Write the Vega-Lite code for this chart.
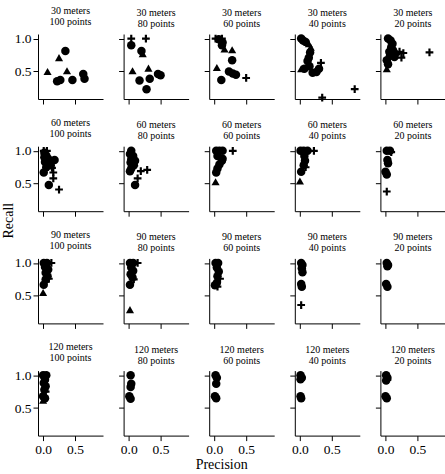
{
  "$schema": "https://vega.github.io/schema/vega-lite/v6.json",
  "padding": {"left": 1, "top": 5, "right": 0, "bottom": 0},
  "background": "white",
  "config": {
    "font": "Liberation Serif",
    "view": {"stroke": null},
    "axis": {"grid": false, "domainColor": "black", "tickColor": "black", "labelColor": "black", "labelFont": "Liberation Serif", "labelFontSize": 13.5, "tickSize": 5, "labelPadding": 2, "titleFont": "Liberation Serif", "titleFontSize": 14, "titleFontWeight": "normal", "titleColor": "black"},
    "title": {"font": "Liberation Serif", "fontSize": 10, "fontWeight": "normal", "color": "black", "offset": 5, "lineHeight": 11, "anchor": "middle"}
  },
  "data": {"values": [
    {"m":30,"p":100,"s":"circle","x":0.35,"y":0.81},
    {"m":30,"p":100,"s":"triangle","x":0.25,"y":0.71},
    {"m":30,"p":100,"s":"triangle","x":0.07,"y":0.50},
    {"m":30,"p":100,"s":"triangle","x":0.375,"y":0.51},
    {"m":30,"p":100,"s":"circle","x":0.22,"y":0.35},
    {"m":30,"p":100,"s":"circle","x":0.27,"y":0.37},
    {"m":30,"p":100,"s":"circle","x":0.46,"y":0.37},
    {"m":30,"p":100,"s":"circle","x":0.63,"y":0.46},
    {"m":30,"p":100,"s":"circle","x":0.65,"y":0.39},

    {"m":30,"p":80,"s":"plus","x":0.04,"y":1.0},
    {"m":30,"p":80,"s":"plus","x":0.27,"y":1.0},
    {"m":30,"p":80,"s":"circle","x":0.04,"y":0.90},
    {"m":30,"p":80,"s":"circle","x":0.2,"y":0.81},
    {"m":30,"p":80,"s":"triangle","x":0.22,"y":0.77},
    {"m":30,"p":80,"s":"triangle","x":0.06,"y":0.51},
    {"m":30,"p":80,"s":"triangle","x":0.31,"y":0.55},
    {"m":30,"p":80,"s":"circle","x":0.17,"y":0.36},
    {"m":30,"p":80,"s":"circle","x":0.33,"y":0.39},
    {"m":30,"p":80,"s":"circle","x":0.46,"y":0.46},
    {"m":30,"p":80,"s":"circle","x":0.5,"y":0.44},
    {"m":30,"p":80,"s":"circle","x":0.28,"y":0.23},

    {"m":30,"p":60,"s":"plus","x":0.02,"y":1.0},
    {"m":30,"p":60,"s":"circle","x":0.07,"y":0.99},
    {"m":30,"p":60,"s":"plus","x":0.12,"y":1.0},
    {"m":30,"p":60,"s":"circle","x":0.13,"y":0.94},
    {"m":30,"p":60,"s":"circle","x":0.12,"y":0.90},
    {"m":30,"p":60,"s":"triangle","x":0.16,"y":0.84},
    {"m":30,"p":60,"s":"triangle","x":0.28,"y":0.83},
    {"m":30,"p":60,"s":"circle","x":0.28,"y":0.67},
    {"m":30,"p":60,"s":"triangle","x":0.04,"y":0.56},
    {"m":30,"p":60,"s":"circle","x":0.23,"y":0.50},
    {"m":30,"p":60,"s":"circle","x":0.29,"y":0.47},
    {"m":30,"p":60,"s":"circle","x":0.34,"y":0.45},
    {"m":30,"p":60,"s":"circle","x":0.11,"y":0.37},
    {"m":30,"p":60,"s":"plus","x":0.5,"y":0.40},

    {"m":30,"p":40,"s":"circle","x":0.02,"y":1.0},
    {"m":30,"p":40,"s":"circle","x":0.05,"y":0.97},
    {"m":30,"p":40,"s":"circle","x":0.09,"y":0.95},
    {"m":30,"p":40,"s":"triangle","x":0.14,"y":0.92},
    {"m":30,"p":40,"s":"triangle","x":0.17,"y":0.87},
    {"m":30,"p":40,"s":"circle","x":0.16,"y":0.79},
    {"m":30,"p":40,"s":"circle","x":0.14,"y":0.71},
    {"m":30,"p":40,"s":"circle","x":0.12,"y":0.66},
    {"m":30,"p":40,"s":"triangle","x":0.02,"y":0.54},
    {"m":30,"p":40,"s":"circle","x":0.07,"y":0.54},
    {"m":30,"p":40,"s":"circle","x":0.15,"y":0.58},
    {"m":30,"p":40,"s":"circle","x":0.2,"y":0.48},
    {"m":30,"p":40,"s":"circle","x":0.26,"y":0.49},
    {"m":30,"p":40,"s":"circle","x":0.3,"y":0.54},
    {"m":30,"p":40,"s":"plus","x":0.33,"y":0.63},
    {"m":30,"p":40,"s":"plus","x":0.35,"y":0.10},
    {"m":30,"p":40,"s":"plus","x":0.86,"y":0.23},

    {"m":30,"p":20,"s":"circle","x":0.04,"y":1.0},
    {"m":30,"p":20,"s":"circle","x":0.08,"y":0.97},
    {"m":30,"p":20,"s":"circle","x":0.11,"y":0.92},
    {"m":30,"p":20,"s":"circle","x":0.09,"y":0.87},
    {"m":30,"p":20,"s":"circle","x":0.12,"y":0.82},
    {"m":30,"p":20,"s":"circle","x":0.06,"y":0.80},
    {"m":30,"p":20,"s":"circle","x":0.15,"y":0.77},
    {"m":30,"p":20,"s":"circle","x":0.07,"y":0.74},
    {"m":30,"p":20,"s":"circle","x":0.14,"y":0.72},
    {"m":30,"p":20,"s":"circle","x":0.02,"y":0.67},
    {"m":30,"p":20,"s":"circle","x":0.04,"y":0.61},
    {"m":30,"p":20,"s":"triangle","x":0.02,"y":0.54},
    {"m":30,"p":20,"s":"plus","x":0.22,"y":0.80},
    {"m":30,"p":20,"s":"plus","x":0.28,"y":0.78},
    {"m":30,"p":20,"s":"plus","x":0.25,"y":0.71},
    {"m":30,"p":20,"s":"plus","x":0.69,"y":0.79},

    {"m":60,"p":100,"s":"plus","x":0.01,"y":1.0},
    {"m":60,"p":100,"s":"plus","x":0.06,"y":1.0},
    {"m":60,"p":100,"s":"circle","x":0.02,"y":0.97},
    {"m":60,"p":100,"s":"triangle","x":0.04,"y":0.95},
    {"m":60,"p":100,"s":"circle","x":0.05,"y":0.93},
    {"m":60,"p":100,"s":"circle","x":0.02,"y":0.90},
    {"m":60,"p":100,"s":"circle","x":0.08,"y":0.88},
    {"m":60,"p":100,"s":"circle","x":0.18,"y":0.86},
    {"m":60,"p":100,"s":"triangle","x":0.06,"y":0.85},
    {"m":60,"p":100,"s":"circle","x":0.03,"y":0.83},
    {"m":60,"p":100,"s":"circle","x":0.07,"y":0.80},
    {"m":60,"p":100,"s":"circle","x":0.12,"y":0.78},
    {"m":60,"p":100,"s":"circle","x":0.05,"y":0.75},
    {"m":60,"p":100,"s":"plus","x":0.14,"y":0.74},
    {"m":60,"p":100,"s":"circle","x":0.01,"y":0.67},
    {"m":60,"p":100,"s":"plus","x":0.16,"y":0.67},
    {"m":60,"p":100,"s":"plus","x":0.16,"y":0.58},
    {"m":60,"p":100,"s":"circle","x":0.09,"y":0.48},
    {"m":60,"p":100,"s":"plus","x":0.25,"y":0.41},

    {"m":60,"p":80,"s":"circle","x":0.04,"y":1.0},
    {"m":60,"p":80,"s":"circle","x":0.02,"y":0.95},
    {"m":60,"p":80,"s":"circle","x":0.07,"y":0.92},
    {"m":60,"p":80,"s":"circle","x":0.04,"y":0.87},
    {"m":60,"p":80,"s":"circle","x":0.1,"y":0.85},
    {"m":60,"p":80,"s":"triangle","x":0.09,"y":0.82},
    {"m":60,"p":80,"s":"circle","x":0.03,"y":0.82},
    {"m":60,"p":80,"s":"circle","x":0.08,"y":0.78},
    {"m":60,"p":80,"s":"circle","x":0.04,"y":0.73},
    {"m":60,"p":80,"s":"circle","x":0.02,"y":0.69},
    {"m":60,"p":80,"s":"plus","x":0.19,"y":0.69},
    {"m":60,"p":80,"s":"plus","x":0.29,"y":0.71},
    {"m":60,"p":80,"s":"plus","x":0.14,"y":0.58},
    {"m":60,"p":80,"s":"circle","x":0.1,"y":0.48},

    {"m":60,"p":60,"s":"circle","x":0.03,"y":1.0},
    {"m":60,"p":60,"s":"circle","x":0.08,"y":1.0},
    {"m":60,"p":60,"s":"circle","x":0.13,"y":1.0},
    {"m":60,"p":60,"s":"plus","x":0.29,"y":1.0},
    {"m":60,"p":60,"s":"circle","x":0.05,"y":0.92},
    {"m":60,"p":60,"s":"circle","x":0.13,"y":0.88},
    {"m":60,"p":60,"s":"circle","x":0.12,"y":0.85},
    {"m":60,"p":60,"s":"circle","x":0.08,"y":0.79},
    {"m":60,"p":60,"s":"circle","x":0.05,"y":0.73},
    {"m":60,"p":60,"s":"circle","x":0.03,"y":0.67},
    {"m":60,"p":60,"s":"triangle","x":0.02,"y":0.53},

    {"m":60,"p":40,"s":"circle","x":0.01,"y":1.0},
    {"m":60,"p":40,"s":"circle","x":0.06,"y":1.0},
    {"m":60,"p":40,"s":"circle","x":0.12,"y":1.0},
    {"m":60,"p":40,"s":"plus","x":0.22,"y":1.0},
    {"m":60,"p":40,"s":"circle","x":0.07,"y":0.92},
    {"m":60,"p":40,"s":"circle","x":0.08,"y":0.85},
    {"m":60,"p":40,"s":"circle","x":0.06,"y":0.78},
    {"m":60,"p":40,"s":"plus","x":0.09,"y":0.75},
    {"m":60,"p":40,"s":"circle","x":0.02,"y":0.68},
    {"m":60,"p":40,"s":"triangle","x":0.0,"y":0.54},

    {"m":60,"p":20,"s":"circle","x":0.02,"y":1.0},
    {"m":60,"p":20,"s":"circle","x":0.07,"y":1.0},
    {"m":60,"p":20,"s":"plus","x":0.09,"y":0.98},
    {"m":60,"p":20,"s":"circle","x":0.03,"y":0.86},
    {"m":60,"p":20,"s":"circle","x":0.04,"y":0.81},
    {"m":60,"p":20,"s":"circle","x":0.0,"y":0.68},
    {"m":60,"p":20,"s":"circle","x":0.02,"y":0.64},
    {"m":60,"p":20,"s":"plus","x":0.02,"y":0.38},

    {"m":90,"p":100,"s":"circle","x":0.01,"y":1.0},
    {"m":90,"p":100,"s":"circle","x":0.06,"y":1.0},
    {"m":90,"p":100,"s":"plus","x":0.13,"y":1.0},
    {"m":90,"p":100,"s":"circle","x":0.03,"y":0.94},
    {"m":90,"p":100,"s":"circle","x":0.08,"y":0.90},
    {"m":90,"p":100,"s":"circle","x":0.04,"y":0.85},
    {"m":90,"p":100,"s":"circle","x":0.07,"y":0.80},
    {"m":90,"p":100,"s":"circle","x":0.04,"y":0.75},
    {"m":90,"p":100,"s":"plus","x":0.09,"y":0.76},
    {"m":90,"p":100,"s":"circle","x":0.01,"y":0.67},
    {"m":90,"p":100,"s":"triangle","x":0.0,"y":0.55},

    {"m":90,"p":80,"s":"circle","x":0.02,"y":1.0},
    {"m":90,"p":80,"s":"circle","x":0.07,"y":1.0},
    {"m":90,"p":80,"s":"plus","x":0.14,"y":1.0},
    {"m":90,"p":80,"s":"circle","x":0.04,"y":0.93},
    {"m":90,"p":80,"s":"circle","x":0.07,"y":0.88},
    {"m":90,"p":80,"s":"circle","x":0.03,"y":0.83},
    {"m":90,"p":80,"s":"circle","x":0.06,"y":0.78},
    {"m":90,"p":80,"s":"plus","x":0.08,"y":0.75},
    {"m":90,"p":80,"s":"circle","x":0.02,"y":0.67},
    {"m":90,"p":80,"s":"triangle","x":0.02,"y":0.29},

    {"m":90,"p":60,"s":"circle","x":0.02,"y":1.0},
    {"m":90,"p":60,"s":"circle","x":0.06,"y":1.0},
    {"m":90,"p":60,"s":"circle","x":0.04,"y":0.93},
    {"m":90,"p":60,"s":"circle","x":0.07,"y":0.87},
    {"m":90,"p":60,"s":"circle","x":0.05,"y":0.80},
    {"m":90,"p":60,"s":"plus","x":0.09,"y":0.76},
    {"m":90,"p":60,"s":"circle","x":0.04,"y":0.70},
    {"m":90,"p":60,"s":"circle","x":0.01,"y":0.66},
    {"m":90,"p":60,"s":"plus","x":0.05,"y":0.64},

    {"m":90,"p":40,"s":"circle","x":0.02,"y":1.0},
    {"m":90,"p":40,"s":"circle","x":0.04,"y":0.97},
    {"m":90,"p":40,"s":"circle","x":0.03,"y":0.92},
    {"m":90,"p":40,"s":"circle","x":0.04,"y":0.86},
    {"m":90,"p":40,"s":"circle","x":0.02,"y":0.68},
    {"m":90,"p":40,"s":"circle","x":0.03,"y":0.64},
    {"m":90,"p":40,"s":"plus","x":0.02,"y":0.36},

    {"m":90,"p":20,"s":"circle","x":0.02,"y":1.0},
    {"m":90,"p":20,"s":"circle","x":0.04,"y":0.97},
    {"m":90,"p":20,"s":"circle","x":0.03,"y":0.95},
    {"m":90,"p":20,"s":"circle","x":0.01,"y":0.68},
    {"m":90,"p":20,"s":"circle","x":0.03,"y":0.64},

    {"m":120,"p":100,"s":"circle","x":0.0,"y":1.0},
    {"m":120,"p":100,"s":"circle","x":0.05,"y":1.0},
    {"m":120,"p":100,"s":"circle","x":0.03,"y":0.93},
    {"m":120,"p":100,"s":"circle","x":0.01,"y":0.88},
    {"m":120,"p":100,"s":"circle","x":0.04,"y":0.83},
    {"m":120,"p":100,"s":"circle","x":0.02,"y":0.78},
    {"m":120,"p":100,"s":"plus","x":0.04,"y":0.75},
    {"m":120,"p":100,"s":"circle","x":0.0,"y":0.68},
    {"m":120,"p":100,"s":"circle","x":0.03,"y":0.65},
    {"m":120,"p":100,"s":"triangle","x":0.0,"y":0.62},

    {"m":120,"p":80,"s":"circle","x":0.03,"y":1.0},
    {"m":120,"p":80,"s":"circle","x":0.04,"y":0.87},
    {"m":120,"p":80,"s":"circle","x":0.03,"y":0.82},
    {"m":120,"p":80,"s":"circle","x":0.01,"y":0.68},
    {"m":120,"p":80,"s":"circle","x":0.03,"y":0.64},

    {"m":120,"p":60,"s":"circle","x":0.02,"y":1.0},
    {"m":120,"p":60,"s":"circle","x":0.04,"y":0.96},
    {"m":120,"p":60,"s":"circle","x":0.03,"y":0.87},
    {"m":120,"p":60,"s":"circle","x":0.01,"y":0.68},
    {"m":120,"p":60,"s":"circle","x":0.03,"y":0.65},

    {"m":120,"p":40,"s":"circle","x":0.01,"y":1.0},
    {"m":120,"p":40,"s":"circle","x":0.03,"y":0.96},
    {"m":120,"p":40,"s":"circle","x":0.01,"y":0.94},
    {"m":120,"p":40,"s":"circle","x":0.01,"y":0.68},
    {"m":120,"p":40,"s":"circle","x":0.02,"y":0.65},

    {"m":120,"p":20,"s":"circle","x":0.01,"y":1.0},
    {"m":120,"p":20,"s":"circle","x":0.03,"y":0.96},
    {"m":120,"p":20,"s":"circle","x":0.01,"y":0.92},
    {"m":120,"p":20,"s":"plus","x":0.03,"y":0.93},
    {"m":120,"p":20,"s":"circle","x":0.0,"y":0.68},
    {"m":120,"p":20,"s":"circle","x":0.02,"y":0.65}
  ]},
  "columns": 5,
  "spacing": {"row": 47.2, "column": 20.6},
  "bounds": "flush",
  "concat": [
    {"title": {"text": ["30 meters", "100 points"]}, "width": 65, "height": 65, "transform": [{"filter": "datum.m==30 && datum.p==100"}], "mark": {"type": "point", "filled": true, "opacity": 1}, "encoding": {"x": {"field": "x", "type": "quantitative", "scale": {"domain": [-0.08, 0.94], "nice": false, "zero": false}, "axis": {"values": [0, 0.5], "format": ".1f", "labels": false, "title": null}}, "y": {"field": "y", "type": "quantitative", "scale": {"domain": [0.08, 1.07], "nice": false, "zero": false}, "axis": {"values": [0.5, 1.0], "format": ".1f", "labels": true, "title": null}}, "shape": {"field": "s", "type": "nominal", "scale": {"domain": ["circle", "triangle", "plus"], "range": ["circle", "triangle-up", "M-1,-0.28H-0.28V-1H0.28V-0.28H1V0.28H0.28V1H-0.28V0.28H-1Z"]}, "legend": null}, "size": {"field": "s", "type": "nominal", "scale": {"domain": ["circle", "triangle", "plus"], "range": [72, 60, 60]}, "legend": null}, "color": {"value": "black"}}},
    {"title": {"text": ["30 meters", "80 points"]}, "width": 65, "height": 65, "transform": [{"filter": "datum.m==30 && datum.p==80"}], "mark": {"type": "point", "filled": true, "opacity": 1}, "encoding": {"x": {"field": "x", "type": "quantitative", "scale": {"domain": [-0.08, 0.94], "nice": false, "zero": false}, "axis": {"values": [0, 0.5], "format": ".1f", "labels": false, "title": null}}, "y": {"field": "y", "type": "quantitative", "scale": {"domain": [0.08, 1.07], "nice": false, "zero": false}, "axis": {"values": [0.5, 1.0], "format": ".1f", "labels": false, "title": null}}, "shape": {"field": "s", "type": "nominal", "scale": {"domain": ["circle", "triangle", "plus"], "range": ["circle", "triangle-up", "M-1,-0.28H-0.28V-1H0.28V-0.28H1V0.28H0.28V1H-0.28V0.28H-1Z"]}, "legend": null}, "size": {"field": "s", "type": "nominal", "scale": {"domain": ["circle", "triangle", "plus"], "range": [72, 60, 60]}, "legend": null}, "color": {"value": "black"}}},
    {"title": {"text": ["30 meters", "60 points"]}, "width": 65, "height": 65, "transform": [{"filter": "datum.m==30 && datum.p==60"}], "mark": {"type": "point", "filled": true, "opacity": 1}, "encoding": {"x": {"field": "x", "type": "quantitative", "scale": {"domain": [-0.08, 0.94], "nice": false, "zero": false}, "axis": {"values": [0, 0.5], "format": ".1f", "labels": false, "title": null}}, "y": {"field": "y", "type": "quantitative", "scale": {"domain": [0.08, 1.07], "nice": false, "zero": false}, "axis": {"values": [0.5, 1.0], "format": ".1f", "labels": false, "title": null}}, "shape": {"field": "s", "type": "nominal", "scale": {"domain": ["circle", "triangle", "plus"], "range": ["circle", "triangle-up", "M-1,-0.28H-0.28V-1H0.28V-0.28H1V0.28H0.28V1H-0.28V0.28H-1Z"]}, "legend": null}, "size": {"field": "s", "type": "nominal", "scale": {"domain": ["circle", "triangle", "plus"], "range": [72, 60, 60]}, "legend": null}, "color": {"value": "black"}}},
    {"title": {"text": ["30 meters", "40 points"]}, "width": 65, "height": 65, "transform": [{"filter": "datum.m==30 && datum.p==40"}], "mark": {"type": "point", "filled": true, "opacity": 1}, "encoding": {"x": {"field": "x", "type": "quantitative", "scale": {"domain": [-0.08, 0.94], "nice": false, "zero": false}, "axis": {"values": [0, 0.5], "format": ".1f", "labels": false, "title": null}}, "y": {"field": "y", "type": "quantitative", "scale": {"domain": [0.08, 1.07], "nice": false, "zero": false}, "axis": {"values": [0.5, 1.0], "format": ".1f", "labels": false, "title": null}}, "shape": {"field": "s", "type": "nominal", "scale": {"domain": ["circle", "triangle", "plus"], "range": ["circle", "triangle-up", "M-1,-0.28H-0.28V-1H0.28V-0.28H1V0.28H0.28V1H-0.28V0.28H-1Z"]}, "legend": null}, "size": {"field": "s", "type": "nominal", "scale": {"domain": ["circle", "triangle", "plus"], "range": [72, 60, 60]}, "legend": null}, "color": {"value": "black"}}},
    {"title": {"text": ["30 meters", "20 points"]}, "width": 65, "height": 65, "transform": [{"filter": "datum.m==30 && datum.p==20"}], "mark": {"type": "point", "filled": true, "opacity": 1}, "encoding": {"x": {"field": "x", "type": "quantitative", "scale": {"domain": [-0.08, 0.94], "nice": false, "zero": false}, "axis": {"values": [0, 0.5], "format": ".1f", "labels": false, "title": null}}, "y": {"field": "y", "type": "quantitative", "scale": {"domain": [0.08, 1.07], "nice": false, "zero": false}, "axis": {"values": [0.5, 1.0], "format": ".1f", "labels": false, "title": null}}, "shape": {"field": "s", "type": "nominal", "scale": {"domain": ["circle", "triangle", "plus"], "range": ["circle", "triangle-up", "M-1,-0.28H-0.28V-1H0.28V-0.28H1V0.28H0.28V1H-0.28V0.28H-1Z"]}, "legend": null}, "size": {"field": "s", "type": "nominal", "scale": {"domain": ["circle", "triangle", "plus"], "range": [72, 60, 60]}, "legend": null}, "color": {"value": "black"}}},

    {"title": {"text": ["60 meters", "100 points"]}, "width": 65, "height": 65, "transform": [{"filter": "datum.m==60 && datum.p==100"}], "mark": {"type": "point", "filled": true, "opacity": 1}, "encoding": {"x": {"field": "x", "type": "quantitative", "scale": {"domain": [-0.08, 0.94], "nice": false, "zero": false}, "axis": {"values": [0, 0.5], "format": ".1f", "labels": false, "title": null}}, "y": {"field": "y", "type": "quantitative", "scale": {"domain": [0.08, 1.07], "nice": false, "zero": false}, "axis": {"values": [0.5, 1.0], "format": ".1f", "labels": true, "title": "Recall", "titleX": -23, "titleY": 74, "titleBaseline": "bottom", "titleAlign": "center", "titleAngle": -90}}, "shape": {"field": "s", "type": "nominal", "scale": {"domain": ["circle", "triangle", "plus"], "range": ["circle", "triangle-up", "M-1,-0.28H-0.28V-1H0.28V-0.28H1V0.28H0.28V1H-0.28V0.28H-1Z"]}, "legend": null}, "size": {"field": "s", "type": "nominal", "scale": {"domain": ["circle", "triangle", "plus"], "range": [72, 60, 60]}, "legend": null}, "color": {"value": "black"}}},
    {"title": {"text": ["60 meters", "80 points"]}, "width": 65, "height": 65, "transform": [{"filter": "datum.m==60 && datum.p==80"}], "mark": {"type": "point", "filled": true, "opacity": 1}, "encoding": {"x": {"field": "x", "type": "quantitative", "scale": {"domain": [-0.08, 0.94], "nice": false, "zero": false}, "axis": {"values": [0, 0.5], "format": ".1f", "labels": false, "title": null}}, "y": {"field": "y", "type": "quantitative", "scale": {"domain": [0.08, 1.07], "nice": false, "zero": false}, "axis": {"values": [0.5, 1.0], "format": ".1f", "labels": false, "title": null}}, "shape": {"field": "s", "type": "nominal", "scale": {"domain": ["circle", "triangle", "plus"], "range": ["circle", "triangle-up", "M-1,-0.28H-0.28V-1H0.28V-0.28H1V0.28H0.28V1H-0.28V0.28H-1Z"]}, "legend": null}, "size": {"field": "s", "type": "nominal", "scale": {"domain": ["circle", "triangle", "plus"], "range": [72, 60, 60]}, "legend": null}, "color": {"value": "black"}}},
    {"title": {"text": ["60 meters", "60 points"]}, "width": 65, "height": 65, "transform": [{"filter": "datum.m==60 && datum.p==60"}], "mark": {"type": "point", "filled": true, "opacity": 1}, "encoding": {"x": {"field": "x", "type": "quantitative", "scale": {"domain": [-0.08, 0.94], "nice": false, "zero": false}, "axis": {"values": [0, 0.5], "format": ".1f", "labels": false, "title": null}}, "y": {"field": "y", "type": "quantitative", "scale": {"domain": [0.08, 1.07], "nice": false, "zero": false}, "axis": {"values": [0.5, 1.0], "format": ".1f", "labels": false, "title": null}}, "shape": {"field": "s", "type": "nominal", "scale": {"domain": ["circle", "triangle", "plus"], "range": ["circle", "triangle-up", "M-1,-0.28H-0.28V-1H0.28V-0.28H1V0.28H0.28V1H-0.28V0.28H-1Z"]}, "legend": null}, "size": {"field": "s", "type": "nominal", "scale": {"domain": ["circle", "triangle", "plus"], "range": [72, 60, 60]}, "legend": null}, "color": {"value": "black"}}},
    {"title": {"text": ["60 meters", "40 points"]}, "width": 65, "height": 65, "transform": [{"filter": "datum.m==60 && datum.p==40"}], "mark": {"type": "point", "filled": true, "opacity": 1}, "encoding": {"x": {"field": "x", "type": "quantitative", "scale": {"domain": [-0.08, 0.94], "nice": false, "zero": false}, "axis": {"values": [0, 0.5], "format": ".1f", "labels": false, "title": null}}, "y": {"field": "y", "type": "quantitative", "scale": {"domain": [0.08, 1.07], "nice": false, "zero": false}, "axis": {"values": [0.5, 1.0], "format": ".1f", "labels": false, "title": null}}, "shape": {"field": "s", "type": "nominal", "scale": {"domain": ["circle", "triangle", "plus"], "range": ["circle", "triangle-up", "M-1,-0.28H-0.28V-1H0.28V-0.28H1V0.28H0.28V1H-0.28V0.28H-1Z"]}, "legend": null}, "size": {"field": "s", "type": "nominal", "scale": {"domain": ["circle", "triangle", "plus"], "range": [72, 60, 60]}, "legend": null}, "color": {"value": "black"}}},
    {"title": {"text": ["60 meters", "20 points"]}, "width": 65, "height": 65, "transform": [{"filter": "datum.m==60 && datum.p==20"}], "mark": {"type": "point", "filled": true, "opacity": 1}, "encoding": {"x": {"field": "x", "type": "quantitative", "scale": {"domain": [-0.08, 0.94], "nice": false, "zero": false}, "axis": {"values": [0, 0.5], "format": ".1f", "labels": false, "title": null}}, "y": {"field": "y", "type": "quantitative", "scale": {"domain": [0.08, 1.07], "nice": false, "zero": false}, "axis": {"values": [0.5, 1.0], "format": ".1f", "labels": false, "title": null}}, "shape": {"field": "s", "type": "nominal", "scale": {"domain": ["circle", "triangle", "plus"], "range": ["circle", "triangle-up", "M-1,-0.28H-0.28V-1H0.28V-0.28H1V0.28H0.28V1H-0.28V0.28H-1Z"]}, "legend": null}, "size": {"field": "s", "type": "nominal", "scale": {"domain": ["circle", "triangle", "plus"], "range": [72, 60, 60]}, "legend": null}, "color": {"value": "black"}}},

    {"title": {"text": ["90 meters", "100 points"]}, "width": 65, "height": 65, "transform": [{"filter": "datum.m==90 && datum.p==100"}], "mark": {"type": "point", "filled": true, "opacity": 1}, "encoding": {"x": {"field": "x", "type": "quantitative", "scale": {"domain": [-0.08, 0.94], "nice": false, "zero": false}, "axis": {"values": [0, 0.5], "format": ".1f", "labels": false, "title": null}}, "y": {"field": "y", "type": "quantitative", "scale": {"domain": [0.08, 1.07], "nice": false, "zero": false}, "axis": {"values": [0.5, 1.0], "format": ".1f", "labels": true, "title": null}}, "shape": {"field": "s", "type": "nominal", "scale": {"domain": ["circle", "triangle", "plus"], "range": ["circle", "triangle-up", "M-1,-0.28H-0.28V-1H0.28V-0.28H1V0.28H0.28V1H-0.28V0.28H-1Z"]}, "legend": null}, "size": {"field": "s", "type": "nominal", "scale": {"domain": ["circle", "triangle", "plus"], "range": [72, 60, 60]}, "legend": null}, "color": {"value": "black"}}},
    {"title": {"text": ["90 meters", "80 points"]}, "width": 65, "height": 65, "transform": [{"filter": "datum.m==90 && datum.p==80"}], "mark": {"type": "point", "filled": true, "opacity": 1}, "encoding": {"x": {"field": "x", "type": "quantitative", "scale": {"domain": [-0.08, 0.94], "nice": false, "zero": false}, "axis": {"values": [0, 0.5], "format": ".1f", "labels": false, "title": null}}, "y": {"field": "y", "type": "quantitative", "scale": {"domain": [0.08, 1.07], "nice": false, "zero": false}, "axis": {"values": [0.5, 1.0], "format": ".1f", "labels": false, "title": null}}, "shape": {"field": "s", "type": "nominal", "scale": {"domain": ["circle", "triangle", "plus"], "range": ["circle", "triangle-up", "M-1,-0.28H-0.28V-1H0.28V-0.28H1V0.28H0.28V1H-0.28V0.28H-1Z"]}, "legend": null}, "size": {"field": "s", "type": "nominal", "scale": {"domain": ["circle", "triangle", "plus"], "range": [72, 60, 60]}, "legend": null}, "color": {"value": "black"}}},
    {"title": {"text": ["90 meters", "60 points"]}, "width": 65, "height": 65, "transform": [{"filter": "datum.m==90 && datum.p==60"}], "mark": {"type": "point", "filled": true, "opacity": 1}, "encoding": {"x": {"field": "x", "type": "quantitative", "scale": {"domain": [-0.08, 0.94], "nice": false, "zero": false}, "axis": {"values": [0, 0.5], "format": ".1f", "labels": false, "title": null}}, "y": {"field": "y", "type": "quantitative", "scale": {"domain": [0.08, 1.07], "nice": false, "zero": false}, "axis": {"values": [0.5, 1.0], "format": ".1f", "labels": false, "title": null}}, "shape": {"field": "s", "type": "nominal", "scale": {"domain": ["circle", "triangle", "plus"], "range": ["circle", "triangle-up", "M-1,-0.28H-0.28V-1H0.28V-0.28H1V0.28H0.28V1H-0.28V0.28H-1Z"]}, "legend": null}, "size": {"field": "s", "type": "nominal", "scale": {"domain": ["circle", "triangle", "plus"], "range": [72, 60, 60]}, "legend": null}, "color": {"value": "black"}}},
    {"title": {"text": ["90 meters", "40 points"]}, "width": 65, "height": 65, "transform": [{"filter": "datum.m==90 && datum.p==40"}], "mark": {"type": "point", "filled": true, "opacity": 1}, "encoding": {"x": {"field": "x", "type": "quantitative", "scale": {"domain": [-0.08, 0.94], "nice": false, "zero": false}, "axis": {"values": [0, 0.5], "format": ".1f", "labels": false, "title": null}}, "y": {"field": "y", "type": "quantitative", "scale": {"domain": [0.08, 1.07], "nice": false, "zero": false}, "axis": {"values": [0.5, 1.0], "format": ".1f", "labels": false, "title": null}}, "shape": {"field": "s", "type": "nominal", "scale": {"domain": ["circle", "triangle", "plus"], "range": ["circle", "triangle-up", "M-1,-0.28H-0.28V-1H0.28V-0.28H1V0.28H0.28V1H-0.28V0.28H-1Z"]}, "legend": null}, "size": {"field": "s", "type": "nominal", "scale": {"domain": ["circle", "triangle", "plus"], "range": [72, 60, 60]}, "legend": null}, "color": {"value": "black"}}},
    {"title": {"text": ["90 meters", "20 points"]}, "width": 65, "height": 65, "transform": [{"filter": "datum.m==90 && datum.p==20"}], "mark": {"type": "point", "filled": true, "opacity": 1}, "encoding": {"x": {"field": "x", "type": "quantitative", "scale": {"domain": [-0.08, 0.94], "nice": false, "zero": false}, "axis": {"values": [0, 0.5], "format": ".1f", "labels": false, "title": null}}, "y": {"field": "y", "type": "quantitative", "scale": {"domain": [0.08, 1.07], "nice": false, "zero": false}, "axis": {"values": [0.5, 1.0], "format": ".1f", "labels": false, "title": null}}, "shape": {"field": "s", "type": "nominal", "scale": {"domain": ["circle", "triangle", "plus"], "range": ["circle", "triangle-up", "M-1,-0.28H-0.28V-1H0.28V-0.28H1V0.28H0.28V1H-0.28V0.28H-1Z"]}, "legend": null}, "size": {"field": "s", "type": "nominal", "scale": {"domain": ["circle", "triangle", "plus"], "range": [72, 60, 60]}, "legend": null}, "color": {"value": "black"}}},

    {"title": {"text": ["120 meters", "100 points"]}, "width": 65, "height": 65, "transform": [{"filter": "datum.m==120 && datum.p==100"}], "mark": {"type": "point", "filled": true, "opacity": 1}, "encoding": {"x": {"field": "x", "type": "quantitative", "scale": {"domain": [-0.08, 0.94], "nice": false, "zero": false}, "axis": {"values": [0, 0.5], "format": ".1f", "labels": true, "title": null}}, "y": {"field": "y", "type": "quantitative", "scale": {"domain": [0.08, 1.07], "nice": false, "zero": false}, "axis": {"values": [0.5, 1.0], "format": ".1f", "labels": true, "title": null}}, "shape": {"field": "s", "type": "nominal", "scale": {"domain": ["circle", "triangle", "plus"], "range": ["circle", "triangle-up", "M-1,-0.28H-0.28V-1H0.28V-0.28H1V0.28H0.28V1H-0.28V0.28H-1Z"]}, "legend": null}, "size": {"field": "s", "type": "nominal", "scale": {"domain": ["circle", "triangle", "plus"], "range": [72, 60, 60]}, "legend": null}, "color": {"value": "black"}}},
    {"title": {"text": ["120 meters", "80 points"]}, "width": 65, "height": 65, "transform": [{"filter": "datum.m==120 && datum.p==80"}], "mark": {"type": "point", "filled": true, "opacity": 1}, "encoding": {"x": {"field": "x", "type": "quantitative", "scale": {"domain": [-0.08, 0.94], "nice": false, "zero": false}, "axis": {"values": [0, 0.5], "format": ".1f", "labels": true, "title": null}}, "y": {"field": "y", "type": "quantitative", "scale": {"domain": [0.08, 1.07], "nice": false, "zero": false}, "axis": {"values": [0.5, 1.0], "format": ".1f", "labels": false, "title": null}}, "shape": {"field": "s", "type": "nominal", "scale": {"domain": ["circle", "triangle", "plus"], "range": ["circle", "triangle-up", "M-1,-0.28H-0.28V-1H0.28V-0.28H1V0.28H0.28V1H-0.28V0.28H-1Z"]}, "legend": null}, "size": {"field": "s", "type": "nominal", "scale": {"domain": ["circle", "triangle", "plus"], "range": [72, 60, 60]}, "legend": null}, "color": {"value": "black"}}},
    {"title": {"text": ["120 meters", "60 points"]}, "width": 65, "height": 65, "transform": [{"filter": "datum.m==120 && datum.p==60"}], "mark": {"type": "point", "filled": true, "opacity": 1}, "encoding": {"x": {"field": "x", "type": "quantitative", "scale": {"domain": [-0.08, 0.94], "nice": false, "zero": false}, "axis": {"values": [0, 0.5], "format": ".1f", "labels": true, "title": "Precision", "titleX": 12, "titleY": 22, "titleBaseline": "top", "titleAlign": "center"}}, "y": {"field": "y", "type": "quantitative", "scale": {"domain": [0.08, 1.07], "nice": false, "zero": false}, "axis": {"values": [0.5, 1.0], "format": ".1f", "labels": false, "title": null}}, "shape": {"field": "s", "type": "nominal", "scale": {"domain": ["circle", "triangle", "plus"], "range": ["circle", "triangle-up", "M-1,-0.28H-0.28V-1H0.28V-0.28H1V0.28H0.28V1H-0.28V0.28H-1Z"]}, "legend": null}, "size": {"field": "s", "type": "nominal", "scale": {"domain": ["circle", "triangle", "plus"], "range": [72, 60, 60]}, "legend": null}, "color": {"value": "black"}}},
    {"title": {"text": ["120 meters", "40 points"]}, "width": 65, "height": 65, "transform": [{"filter": "datum.m==120 && datum.p==40"}], "mark": {"type": "point", "filled": true, "opacity": 1}, "encoding": {"x": {"field": "x", "type": "quantitative", "scale": {"domain": [-0.08, 0.94], "nice": false, "zero": false}, "axis": {"values": [0, 0.5], "format": ".1f", "labels": true, "title": null}}, "y": {"field": "y", "type": "quantitative", "scale": {"domain": [0.08, 1.07], "nice": false, "zero": false}, "axis": {"values": [0.5, 1.0], "format": ".1f", "labels": false, "title": null}}, "shape": {"field": "s", "type": "nominal", "scale": {"domain": ["circle", "triangle", "plus"], "range": ["circle", "triangle-up", "M-1,-0.28H-0.28V-1H0.28V-0.28H1V0.28H0.28V1H-0.28V0.28H-1Z"]}, "legend": null}, "size": {"field": "s", "type": "nominal", "scale": {"domain": ["circle", "triangle", "plus"], "range": [72, 60, 60]}, "legend": null}, "color": {"value": "black"}}},
    {"title": {"text": ["120 meters", "20 points"]}, "width": 65, "height": 65, "transform": [{"filter": "datum.m==120 && datum.p==20"}], "mark": {"type": "point", "filled": true, "opacity": 1}, "encoding": {"x": {"field": "x", "type": "quantitative", "scale": {"domain": [-0.08, 0.94], "nice": false, "zero": false}, "axis": {"values": [0, 0.5], "format": ".1f", "labels": true, "title": null}}, "y": {"field": "y", "type": "quantitative", "scale": {"domain": [0.08, 1.07], "nice": false, "zero": false}, "axis": {"values": [0.5, 1.0], "format": ".1f", "labels": false, "title": null}}, "shape": {"field": "s", "type": "nominal", "scale": {"domain": ["circle", "triangle", "plus"], "range": ["circle", "triangle-up", "M-1,-0.28H-0.28V-1H0.28V-0.28H1V0.28H0.28V1H-0.28V0.28H-1Z"]}, "legend": null}, "size": {"field": "s", "type": "nominal", "scale": {"domain": ["circle", "triangle", "plus"], "range": [72, 60, 60]}, "legend": null}, "color": {"value": "black"}}}
  ]
}
